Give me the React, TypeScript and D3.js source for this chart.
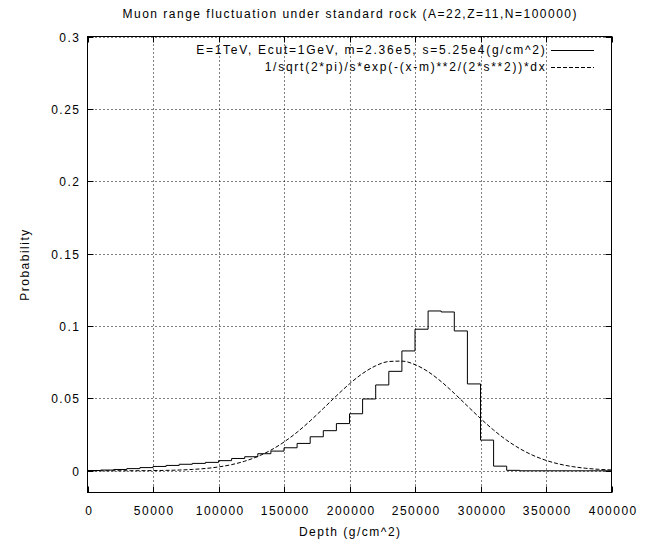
import React from "react";
import * as d3 from "d3";

// Histogram: bin start (g/cm^2) and probability per 10000 g/cm^2 bin
const binStarts = [
  0, 10000, 20000, 30000, 40000, 50000, 60000, 70000, 80000, 90000,
  100000, 110000, 120000, 130000, 140000, 150000, 160000, 170000, 180000, 190000,
  200000, 210000, 220000, 230000, 240000, 250000, 260000, 270000, 280000, 290000,
  300000, 310000, 320000, 330000, 340000, 350000, 360000, 370000, 380000, 390000,
];
const histValues = [
  0.0002, 0.0005, 0.0009, 0.0015, 0.0022, 0.003, 0.0037, 0.0045, 0.0051, 0.0058,
  0.007, 0.0085, 0.0097, 0.0118, 0.0136, 0.0159, 0.0189, 0.0235, 0.0277, 0.0326,
  0.0394, 0.0496, 0.0593, 0.0687, 0.0828, 0.0978, 0.1104, 0.1097, 0.0966, 0.06,
  0.0212, 0.0032, 0.0003, 0, 0, 0, 0, 0, 0, 0,
];
const binWidth = 10000;

// Gaussian reference curve, read at every 10000 g/cm^2
const gaussX = [
  0, 10000, 20000, 30000, 40000, 50000, 60000, 70000, 80000, 90000,
  100000, 110000, 120000, 130000, 140000, 150000, 160000, 170000, 180000, 190000,
  200000, 210000, 220000, 230000, 240000, 250000, 260000, 270000, 280000, 290000,
  300000, 310000, 320000, 330000, 340000, 350000, 360000, 370000, 380000, 390000, 400000,
];
const gaussY = [
  0.000003, 0.000007, 0.000016, 0.000034, 0.000071, 0.000143, 0.000276, 0.000512, 0.000919, 0.00159,
  0.00265, 0.00426, 0.00662, 0.0099, 0.01428, 0.01987, 0.02665, 0.03449, 0.04303, 0.05176,
  0.06007, 0.06722, 0.07254, 0.07549, 0.07577, 0.07334, 0.06845, 0.06161, 0.05348, 0.04477,
  0.03615, 0.02814, 0.02113, 0.0153, 0.01068, 0.0072, 0.00467, 0.00293, 0.00177, 0.00103, 0.00058,
];

const xTicks = [0, 50000, 100000, 150000, 200000, 250000, 300000, 350000, 400000];
const xTickLabels = ["0", "50000", "100000", "150000", "200000", "250000", "300000", "350000", "400000"];
const yTicks = [0, 0.05, 0.1, 0.15, 0.2, 0.25, 0.3];
const yTickLabels = ["0", "0.05", "0.1", "0.15", "0.2", "0.25", "0.3"];

const title = "Muon range fluctuation under standard rock (A=22,Z=11,N=100000)";
const xLabel = "Depth (g/cm^2)";
const yLabel = "Probability";
const legendLabels = [
  "E=1TeV, Ecut=1GeV, m=2.36e5, s=5.25e4(g/cm^2)",
  "1/sqrt(2*pi)/s*exp(-(x-m)**2/(2*s**2))*dx",
];

const W = 660;
const H = 544;
const L = 87.5, R = 611.5, T = 36.5, B = 492.5;

export default function App() {
  const x = d3.scaleLinear().domain([0, 400000]).range([L, R]);
  const y = d3.scaleLinear().domain([-0.015, 0.3]).range([B, T]);

  // step path for histogram
  const stepPts: [number, number][] = [[x(0), y(0)]];
  binStarts.forEach((b, i) => {
    stepPts.push([x(b), y(histValues[i])]);
    stepPts.push([x(b + binWidth), y(histValues[i])]);
  });
  const histPath = d3.line()(stepPts) as string;

  const gaussPath = d3
    .line<number>()
    .x((_, i) => x(gaussX[i]))
    .y((d) => y(d))
    .curve(d3.curveMonotoneX)(gaussY) as string;

  const font = {
    fontFamily: "'Liberation Sans', Arial, sans-serif",
    fontSize: 12,
    letterSpacing: "1.5px",
    fill: "#000",
  } as React.CSSProperties;
  const legendFont = { ...font, letterSpacing: "1.75px" } as React.CSSProperties;

  const tick = 6;
  const gridStyle = { stroke: "#000", strokeWidth: 1, strokeDasharray: "1,3", fill: "none" };

  return (
    <svg
      width={W}
      height={H}
      style={{ position: "absolute", left: 0, top: 0, background: "#fff" }}
    >
      <rect x={0} y={0} width={W} height={H} fill="#fff" />
      <defs>
        <clipPath id="plotclip">
          <rect x={L} y={T} width={R - L} height={B - T} />
        </clipPath>
      </defs>
      {/* grid */}
      {yTicks.map((t) => (
        <line key={"gy" + t} x1={L} x2={R} y1={Math.round(y(t)) + 0.5} y2={Math.round(y(t)) + 0.5} {...gridStyle} />
      ))}
      {xTicks.slice(1, -1).map((t) => (
        <line key={"gx" + t} x1={Math.round(x(t)) + 0.5} x2={Math.round(x(t)) + 0.5} y1={T} y2={B} {...gridStyle} />
      ))}
      {/* ticks */}
      {yTicks.map((t, i) => {
        const yy = Math.round(y(t)) + 0.5;
        return (
          <g key={"ty" + t}>
            <line x1={L} x2={L + tick} y1={yy} y2={yy} stroke="#000" />
            <line x1={R - tick} x2={R} y1={yy} y2={yy} stroke="#000" />
            <text x={80.5} y={yy + 4.3} textAnchor="end" style={font}>
              {yTickLabels[i]}
            </text>
          </g>
        );
      })}
      {xTicks.map((t, i) => {
        const xx = Math.round(x(t)) + 0.5;
        return (
          <g key={"tx" + t}>
            <line x1={xx} x2={xx} y1={B} y2={B - tick} stroke="#000" />
            <line x1={xx} x2={xx} y1={T} y2={T + tick} stroke="#000" />
            <text x={xx + 0.75} y={515} textAnchor="middle" style={font}>
              {xTickLabels[i]}
            </text>
          </g>
        );
      })}
      {/* data */}
      <g clipPath="url(#plotclip)">
        <path d={gaussPath} fill="none" stroke="#000" strokeWidth={1} strokeDasharray="4,2" />
        <path d={histPath} fill="none" stroke="#000" strokeWidth={1} />
      </g>
      {/* frame */}
      <rect x={L} y={T} width={R - L} height={B - T} fill="none" stroke="#000" strokeWidth={1} />
      {/* legend */}
      <text x={546.5} y={54} textAnchor="end" style={legendFont}>{legendLabels[0]}</text>
      <line x1={551} x2={594} y1={50.5} y2={50.5} stroke="#000" />
      <text x={546.5} y={71} textAnchor="end" style={legendFont}>{legendLabels[1]}</text>
      <line x1={551} x2={594} y1={67.5} y2={67.5} stroke="#000" strokeDasharray="4,2" />
      {/* title and labels */}
      <text x={(L + R) / 2 + 0.75} y={17.5} textAnchor="middle" style={font}>{title}</text>
      <text x={(L + R) / 2 + 0.75} y={536} textAnchor="middle" style={font}>{xLabel}</text>
      <text
        transform={`translate(29,${(T + B) / 2}) rotate(-90)`}
        textAnchor="middle"
        style={font}
      >
        {yLabel}
      </text>
    </svg>
  );
}
